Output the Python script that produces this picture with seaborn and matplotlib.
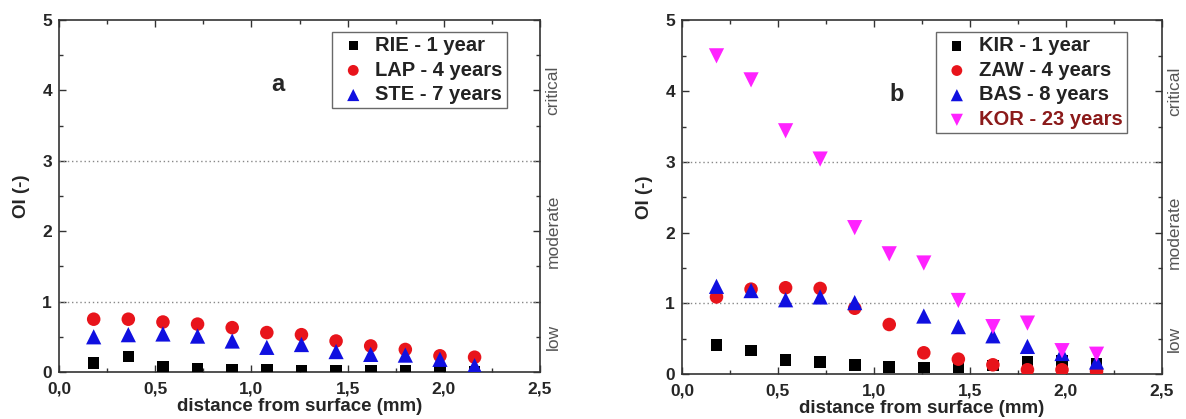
import numpy as np
import pandas as pd
import matplotlib
matplotlib.use("Agg")
import matplotlib.pyplot as plt
import matplotlib.transforms as mtransforms
from matplotlib.ticker import MultipleLocator, FuncFormatter
import seaborn as sns

# Depth positions (mm)
depth = [0.18, 0.36, 0.54, 0.72, 0.90, 1.08, 1.26, 1.44, 1.62, 1.80, 1.98, 2.16]

# Panel a
rie_1y = [0.13, 0.22, 0.08, 0.04, 0.03, 0.03, 0.02, 0.02, 0.02, 0.01, 0.01, 0.00]
lap_4y = [0.75, 0.75, 0.71, 0.68, 0.63, 0.56, 0.53, 0.44, 0.37, 0.32, 0.23, 0.21]
ste_7y = [0.50, 0.53, 0.54, 0.51, 0.44, 0.35, 0.39, 0.29, 0.25, 0.24, 0.18, 0.09]

# Panel b
kir_1y = [0.41, 0.33, 0.20, 0.17, 0.13, 0.10, 0.09, 0.10, 0.12, 0.17, 0.18, 0.15]
zaw_4y = [1.09, 1.20, 1.22, 1.21, 0.93, 0.70, 0.30, 0.21, 0.13, 0.06, 0.06, 0.04]
bas_depth = [0.18, 0.36, 0.54, 0.72, 0.90, 1.26, 1.44, 1.62, 1.80, 1.98, 2.16]
bas_8y = [1.24, 1.18, 1.05, 1.09, 1.01, 0.82, 0.67, 0.54, 0.39, 0.29, 0.17]
kor_23y = [4.50, 4.16, 3.44, 3.04, 2.07, 1.70, 1.57, 1.04, 0.67, 0.72, 0.33, 0.28]

zone_labels = ["critical", "moderate", "low"]
zone_centres = [4.0, 2.0, 0.5]
thresholds = [1, 3]

sns.set_theme(style="ticks")
plt.rcParams["font.family"] = ["Liberation Sans", "DejaVu Sans"]
plt.rcParams["font.weight"] = "bold"

fig = plt.figure(figsize=(11.86, 4.19), dpi=100)
ax_a = fig.add_axes([0.0498, 0.1122, 0.4055, 0.840])
ax_b = fig.add_axes([0.575, 0.1074, 0.4046, 0.8437])

comma = FuncFormatter(lambda v, p: f"{v:.1f}".replace(".", ","))


def draw(ax, series, letter, letter_xy, legend_anchor, label_colors):
    for x, y, lab, col, mk, s in series:
        df = pd.DataFrame({"x": x, "y": y})
        sns.scatterplot(data=df, x="x", y="y", ax=ax, color=col, marker=mk,
                        s=s, edgecolor="none", label=lab, zorder=3)
    for t in thresholds:
        ax.axhline(t, color="#888888", lw=1.0, ls=(0, (1, 2)), zorder=1)
    ax.set_xlim(0, 2.5)
    ax.set_ylim(0, 5)
    ax.xaxis.set_major_locator(MultipleLocator(0.5))
    ax.xaxis.set_minor_locator(MultipleLocator(0.25))
    ax.yaxis.set_major_locator(MultipleLocator(1))
    ax.yaxis.set_minor_locator(MultipleLocator(0.5))
    ax.xaxis.set_major_formatter(comma)
    ax.tick_params(which="both", direction="in", top=True, right=True,
                   width=1.0, color="#333333")
    ax.tick_params(which="major", length=5, labelsize=12.5)
    ax.tick_params(axis="x", which="major", pad=7)
    ax.tick_params(axis="y", which="major", pad=5)
    ax.tick_params(which="minor", length=3)
    for lab in ax.get_xticklabels() + ax.get_yticklabels():
        lab.set_fontweight("bold")
    for sp in ax.spines.values():
        sp.set_visible(True)
        sp.set_linewidth(1.2)
        sp.set_color("#333333")
    ax.set_xlabel("distance from surface (mm)", fontsize=13.5,
                  fontweight="bold", labelpad=1)
    ax.set_ylabel("OI (-)", fontsize=13.5, fontweight="bold", labelpad=9)
    ax.text(letter_xy[0], letter_xy[1], letter, fontsize=17,
            fontweight="bold", ha="center", va="center")
    trans = mtransforms.blended_transform_factory(ax.transAxes, ax.transData)
    for txt, yc in zip(zone_labels, zone_centres):
        ax.text(1.027, yc, txt, transform=trans, rotation=90, ha="center",
                va="center", fontsize=12.5, fontweight="normal",
                color="#555555")
    leg = ax.legend(loc="upper right", bbox_to_anchor=legend_anchor,
                    frameon=True, fancybox=False, fontsize=14.5,
                    handletextpad=0.25, borderpad=0.2, labelspacing=0.28,
                    handlelength=1.7, borderaxespad=0, markerscale=0.8)
    leg.get_frame().set_edgecolor("#444444")
    leg.get_frame().set_linewidth(1.0)
    for t, c in zip(leg.get_texts(), label_colors):
        t.set_fontweight("bold")
        t.set_color(c)


series_a = [
    (depth, rie_1y, "RIE - 1 year", "black", "s", 70),
    (depth, lap_4y, "LAP - 4 years", "#e8141b", "o", 95),
    (depth, ste_7y, "STE - 7 years", "#1010e0", "^", 120),
]
series_b = [
    (depth, kir_1y, "KIR - 1 year", "black", "s", 70),
    (depth, zaw_4y, "ZAW - 4 years", "#e8141b", "o", 95),
    (bas_depth, bas_8y, "BAS - 8 years", "#1010e0", "^", 120),
    (depth, kor_23y, "KOR - 23 years", "#ff22ff", "v", 120),
]

draw(ax_a, series_a, "a", (1.135, 4.08), (0.931, 0.966),
     ["#222222", "#222222", "#222222"])
draw(ax_b, series_b, "b", (1.12, 3.95), (0.927, 0.967),
     ["#222222", "#222222", "#222222", "#8b1a1a"])

fig.savefig("out.png", dpi=100)
